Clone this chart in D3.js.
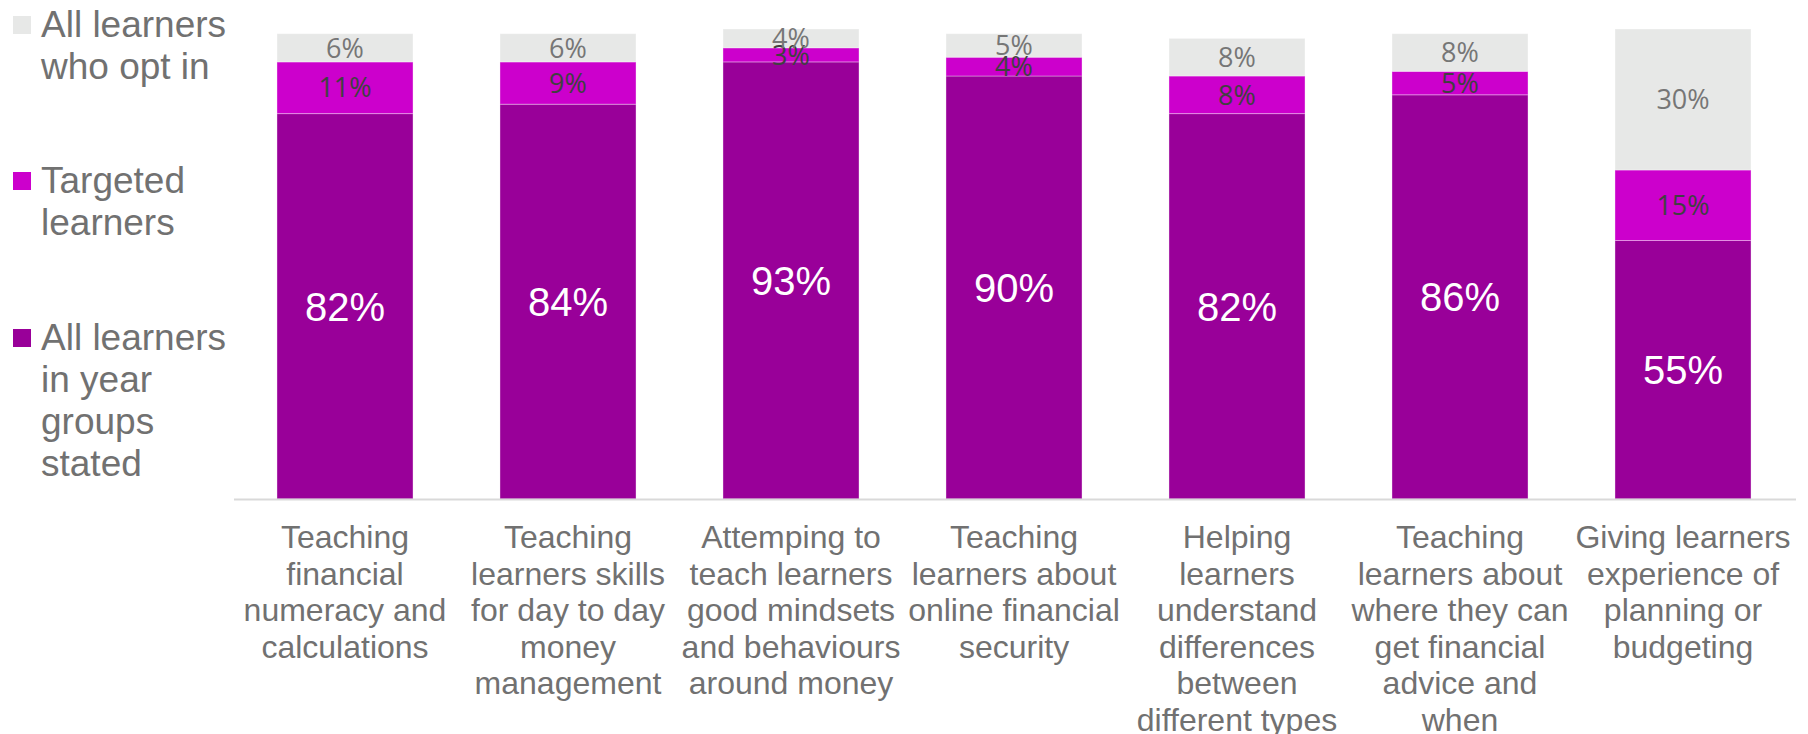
<!DOCTYPE html>
<html>
<head>
<meta charset="utf-8">
<script src="https://cdn.jsdelivr.net/npm/d3@7/dist/d3.min.js"></script>
<style>
  html, body { margin: 0; padding: 0; background: #ffffff; }
  svg { display: block; }
</style>
</head>
<body>
<svg id="chart" width="1808" height="734"></svg>
<script>
// Category labels, already broken into display lines
const categories = [
  ["Teaching", "financial", "numeracy and", "calculations"],
  ["Teaching", "learners skills", "for day to day", "money", "management"],
  ["Attemping to", "teach learners", "good mindsets", "and behaviours", "around money"],
  ["Teaching", "learners about", "online financial", "security"],
  ["Helping", "learners", "understand", "differences", "between", "different types"],
  ["Teaching", "learners about", "where they can", "get financial", "advice and", "when"],
  ["Giving learners", "experience of", "planning or", "budgeting"]
];

// Share of schools (%) for each delivery approach
const allInYear = [82, 84, 93, 90, 82, 86, 55];
const targeted  = [11, 9, 3, 4, 8, 5, 15];
const optIn     = [6, 6, 4, 5, 8, 8, 30];

const seriesNames = ["All learners in year groups stated", "Targeted learners", "All learners who opt in"];
const legendLines = [
  ["All learners", "who opt in"],
  ["Targeted", "learners"],
  ["All learners", "in year", "groups", "stated"]
];

const colors = {
  allInYear: "#990099",
  targeted: "#cc00cc",
  optIn: "#e7e8e7"
};

const svg = d3.select("#chart");

const x = d3.scaleBand()
  .domain(d3.range(categories.length))
  .range([233.5, 1794.5])
  .paddingInner(0.39)
  .paddingOuter(0.195);

const y = d3.scaleLinear().domain([0, 100]).range([499, 29]);

// Build the stacked layout
const rows = categories.map((c, i) => ({
  i,
  allInYear: allInYear[i],
  targeted: targeted[i],
  optIn: optIn[i]
}));
const keys = ["allInYear", "targeted", "optIn"];
const stacked = d3.stack().keys(keys)(rows);

const layers = svg.append("g").selectAll("g")
  .data(stacked)
  .join("g")
  .attr("fill", d => colors[d.key]);

layers.selectAll("rect")
  .data(d => d)
  .join("rect")
  .attr("x", d => x(d.data.i))
  .attr("width", x.bandwidth())
  .attr("y", d => y(d[1]))
  .attr("height", d => y(d[0]) - y(d[1]))
  .attr("stroke", "#ffffff")
  .attr("stroke-opacity", 0.35)
  .attr("stroke-width", 1);

// Axis baseline
svg.append("line")
  .attr("x1", 234).attr("x2", 1796)
  .attr("y1", y(0) + 0.5).attr("y2", y(0) + 0.5)
  .attr("stroke", "#d9d9d9")
  .attr("stroke-width", 2);

// Value labels
const labelStyle = {
  allInYear: { font: "Liberation Sans, Arial, sans-serif", size: 40, fill: "#ffffff" },
  targeted:  { font: "Open Sans, sans-serif", size: 27, fill: "#404040" },
  optIn:     { font: "Open Sans, sans-serif", size: 27, fill: "#767676" }
};

stacked.forEach(layer => {
  const st = labelStyle[layer.key];
  svg.append("g").selectAll("text")
    .data(layer)
    .join("text")
    .attr("x", d => x(d.data.i) + x.bandwidth() / 2)
    .attr("y", d => (y(d[0]) + y(d[1])) / 2)
    .attr("dy", "0.36em")
    .attr("text-anchor", "middle")
    .attr("font-family", st.font)
    .attr("font-size", st.size)
    .attr("fill", st.fill)
    .text(d => (d[1] - d[0]) + "%");
});

// Category labels under the axis
const catG = svg.append("g")
  .attr("font-family", "Liberation Sans, Arial, sans-serif")
  .attr("font-size", 32)
  .attr("fill", "#717171")
  .attr("text-anchor", "middle");

categories.forEach((lines, i) => {
  const t = catG.append("text")
    .attr("x", x(i) + x.bandwidth() / 2)
    .attr("y", 548);
  lines.forEach((ln, k) => {
    t.append("tspan")
      .attr("x", x(i) + x.bandwidth() / 2)
      .attr("y", 548 + k * 36.5)
      .text(ln);
  });
});

// Legend on the left
const legendColors = [colors.optIn, colors.targeted, colors.allInYear];
const legendBaselines = [37, 193, 350];
const legG = svg.append("g")
  .attr("font-family", "Liberation Sans, Arial, sans-serif")
  .attr("font-size", 37)
  .attr("fill", "#717171");

legendLines.forEach((lines, i) => {
  const b = legendBaselines[i];
  legG.append("rect")
    .attr("x", 13).attr("y", b - 21)
    .attr("width", 18).attr("height", 18)
    .attr("fill", legendColors[i]);
  const t = legG.append("text").attr("x", 41).attr("y", b);
  lines.forEach((ln, k) => {
    t.append("tspan").attr("x", 41).attr("y", b + k * 42).text(ln);
  });
});
</script>
</body>
</html>
